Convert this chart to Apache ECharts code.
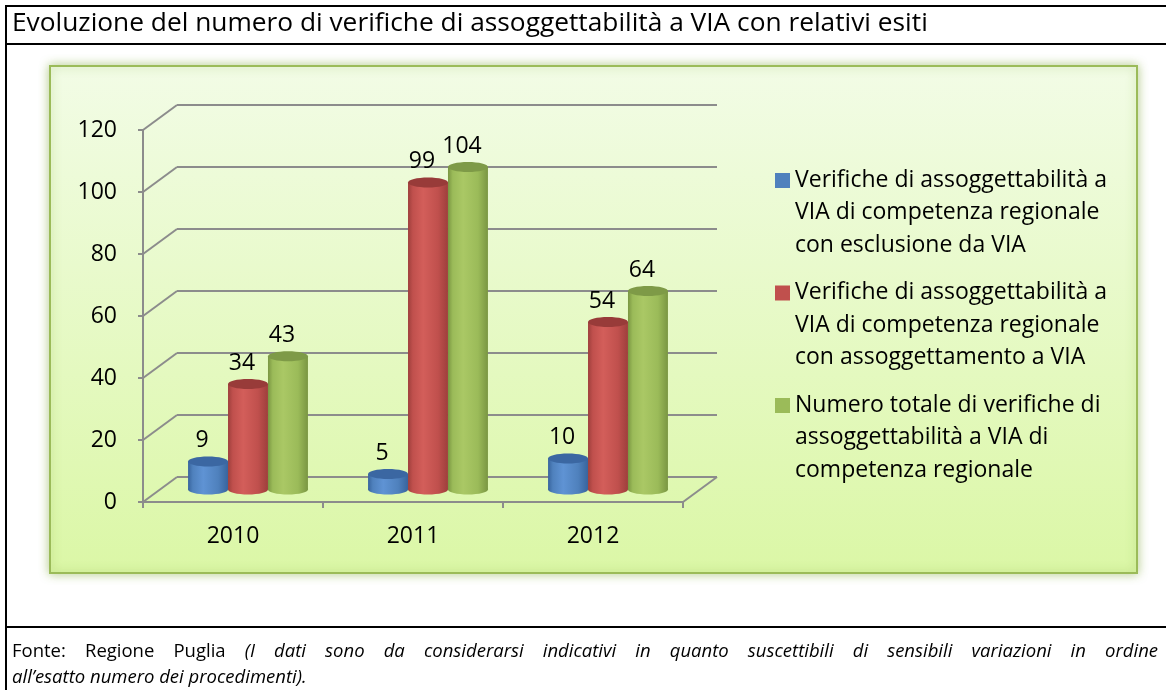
<!DOCTYPE html>
<html>
<head>
<meta charset="utf-8">
<title>Verifiche di assoggettabilità a VIA</title>
<script src="https://cdn.jsdelivr.net/npm/echarts@6/dist/echarts.min.js"></script>
<style>
html, body { margin: 0; padding: 0; background: #fff; }
#main { width: 1166px; height: 690px; }
</style>
</head>
<body>
<div id="main"></div>
<script>
// dati
var anni = ['2010', '2011', '2012'];
var esclusione = [9, 5, 10];
var assoggettamento = [34, 99, 54];
var totale = [43, 104, 64];
var yTicks = [0, 20, 40, 60, 80, 100, 120];

var nomiSerie = [
    'Verifiche di assoggettabilità a VIA di competenza regionale con esclusione da VIA',
    'Verifiche di assoggettabilità a VIA di competenza regionale con assoggettamento a VIA',
    'Numero totale di verifiche di assoggettabilità a VIA di competenza regionale'
];
var nomiLegenda = [
    'Verifiche di assoggettabilità a\nVIA di competenza regionale\ncon esclusione da VIA',
    'Verifiche di assoggettabilità a\nVIA di competenza regionale\ncon assoggettamento a VIA',
    'Numero totale di verifiche di\nassoggettabilità a VIA di\ncompetenza regionale'
];

var titolo = 'Evoluzione del numero di verifiche di assoggettabilità a VIA con relativi esiti';
var fonte = 'Fonte: Regione Puglia';
var notaRiga1 = '(I dati sono da considerarsi indicativi in quanto suscettibili di sensibili variazioni in ordine';
var notaRiga2 = 'all\u2019esatto numero dei procedimenti).';

var colori = [
    {base: '#4f81bd', light: '#5f93d4', dark: '#38649d', top: '#3b67a2'},
    {base: '#c0504d', light: '#d35e5a', dark: '#9e3f3c', top: '#983b39'},
    {base: '#9bbb59', light: '#aac865', dark: '#7a9642', top: '#7e9a47'}
];

var FONT = '"Open Sans", "DejaVu Sans", sans-serif';
var DX = 34, DY = -25; // profondita 3D
var GRIGIO = '#8c8c8c';
var FONTE_SIZE = 18.5;
var NOTA_SIZE = 18.5;

var chart = echarts.init(document.getElementById('main'));

function cilindro(idx) {
    return function (params, api) {
        var cat = api.value(0);
        var val = api.value(1);
        var base = api.coord([cat, 0]);
        var cima = api.coord([cat, val]);
        var banda = api.size([1, 0])[0];
        var w = banda * 0.222;
        var cx = base[0] + DX / 2 - 2 + (idx - 1) * w;
        var y0 = base[1] + DY / 2;
        var y1 = cima[1] + DY / 2;
        var ry = 5;
        var c = colori[idx];
        var grad = new echarts.graphic.LinearGradient(0, 0, 1, 0, [
            {offset: 0, color: c.dark},
            {offset: 0.12, color: c.base},
            {offset: 0.38, color: c.light},
            {offset: 0.75, color: c.base},
            {offset: 1, color: c.dark}
        ]);
        return {
            type: 'group',
            children: [
                {type: 'ellipse', shape: {cx: cx, cy: y0, rx: w / 2, ry: ry}, style: {fill: grad}},
                {type: 'rect', shape: {x: cx - w / 2, y: y1, width: w, height: y0 - y1}, style: {fill: grad}},
                {type: 'ellipse', shape: {cx: cx, cy: y1, rx: w / 2, ry: ry}, style: {fill: c.top}},
                {
                    type: 'text',
                    style: {
                        text: String(val), x: cx - 6, y: y1 - 21,
                        align: 'center', verticalAlign: 'middle',
                        fontSize: 23, fontFamily: FONT, fill: '#000'
                    }
                }
            ]
        };
    };
}

function coppie(valori) {
    return valori.map(function (v, i) { return [i, v]; });
}

var serie = [esclusione, assoggettamento, totale].map(function (valori, i) {
    return {
        name: nomiSerie[i],
        type: 'custom',
        xAxisIndex: 0,
        yAxisIndex: 0,
        z: 5,
        itemStyle: {color: colori[i].base},
        renderItem: cilindro(i),
        data: coppie(valori)
    };
});

// diagonali della parete laterale e del pavimento
serie.unshift({
    type: 'custom',
    xAxisIndex: 0,
    yAxisIndex: 0,
    silent: true,
    z: 1,
    renderItem: function (params, api) {
        var cs = params.coordSys;
        var y = api.coord([0, api.value(1)])[1];
        var linee = [{
            type: 'line',
            shape: {x1: cs.x, y1: y, x2: cs.x + DX, y2: y + DY},
            style: {stroke: GRIGIO, lineWidth: 2}
        }];
        if (api.value(1) === 0) {
            linee.push({
                type: 'line',
                shape: {x1: cs.x + cs.width, y1: y, x2: cs.x + cs.width + DX, y2: y + DY},
                style: {stroke: GRIGIO, lineWidth: 2}
            });
        }
        return {type: 'group', children: linee};
    },
    data: yTicks.map(function (v) { return [0, v]; })
});

// prima riga della fonte giustificata come nel documento originale
var ctx = document.createElement('canvas').getContext('2d');
function larghezza(testo, font) {
    ctx.font = font;
    return ctx.measureText(testo).width;
}
var fontA = FONTE_SIZE + 'px "Open Sans"';
var fontB = 'italic ' + NOTA_SIZE + 'px "Open Sans"';
var parole = fonte.split(' ').map(function (p) { return {t: p, s: 'a'}; })
    .concat(notaRiga1.split(' ').map(function (p) { return {t: p, s: 'b'}; }));
var occupato = 0;
parole.forEach(function (p) { occupato += larghezza(p.t, p.s === 'a' ? fontA : fontB); });
var spazio = (1146 - occupato) / (parole.length - 1);
var riga1 = parole.map(function (p) { return '{' + p.s + '|' + p.t + '}'; }).join('{s| }');

chart.setOption({
    backgroundColor: '#ffffff',
    animation: false,
    title: {
        text: titolo,
        left: 12,
        top: 8,
        padding: 0,
        textStyle: {fontFamily: FONT, fontSize: 26.3, fontWeight: 'normal', color: '#000', lineHeight: 32}
    },
    legend: {
        orient: 'vertical',
        left: 770,
        top: 159,
        itemGap: 15,
        itemWidth: 15,
        itemHeight: 97.5,
        icon: 'path://M0,0M0,9L15,9L15,24L0,24ZM15,97.5',
        data: nomiSerie.map(function (n, i) {
            return {name: n, itemStyle: {color: colori[i].base}};
        }),
        formatter: function (name) {
            return nomiLegenda[nomiSerie.indexOf(name)];
        },
        textStyle: {fontFamily: FONT, fontSize: 23, lineHeight: 32.5, color: '#000'}
    },
    grid: [
        {left: 143, top: 130, width: 540, height: 372},
        {left: 177, top: 105, width: 540, height: 372}
    ],
    xAxis: [
        {
            type: 'category',
            gridIndex: 0,
            data: anni,
            axisLine: {lineStyle: {color: GRIGIO, width: 2}},
            axisTick: {show: true, length: 6, lineStyle: {color: GRIGIO, width: 2}},
            axisLabel: {margin: 23, fontFamily: FONT, fontSize: 23, color: '#000'},
            splitLine: {show: false}
        },
        {type: 'category', gridIndex: 1, data: anni, show: false}
    ],
    yAxis: [
        {
            type: 'value',
            gridIndex: 0,
            min: yTicks[0],
            max: yTicks[yTicks.length - 1],
            interval: 20,
            axisLine: {show: true, lineStyle: {color: GRIGIO, width: 2}},
            axisTick: {show: true, length: 5, lineStyle: {color: GRIGIO, width: 2}},
            axisLabel: {margin: 26, fontFamily: FONT, fontSize: 23, color: '#000'},
            splitLine: {show: false}
        },
        {
            type: 'value',
            gridIndex: 1,
            min: yTicks[0],
            max: yTicks[yTicks.length - 1],
            interval: 20,
            axisLine: {show: false},
            axisTick: {show: false},
            axisLabel: {show: false},
            splitLine: {show: true, lineStyle: {color: GRIGIO, width: 2}}
        }
    ],
    graphic: [
        // pannello verde del grafico
        {
            type: 'rect',
            z: -10,
            shape: {x: 50, y: 66, width: 1087, height: 507},
            style: {
                fill: new echarts.graphic.LinearGradient(0, 0, 0, 1, [
                    {offset: 0, color: '#f2fce6'},
                    {offset: 1, color: '#dbf7a6'}
                ]),
                stroke: '#9bbb59',
                lineWidth: 2,
                shadowBlur: 10,
                shadowColor: 'rgba(130,170,60,0.55)'
            }
        },
        // cornice della tabella
        {type: 'line', z: -5, shape: {x1: 6, y1: 5, x2: 6, y2: 690}, style: {stroke: '#000', lineWidth: 2}},
        {type: 'line', z: -5, shape: {x1: 5, y1: 6, x2: 1166, y2: 6}, style: {stroke: '#000', lineWidth: 2}},
        {type: 'line', z: -5, shape: {x1: 5, y1: 44, x2: 1166, y2: 44}, style: {stroke: '#000', lineWidth: 2}},
        {type: 'line', z: -5, shape: {x1: 5, y1: 627, x2: 1166, y2: 627}, style: {stroke: '#000', lineWidth: 2}},
        // fonte
        {
            type: 'text',
            x: 12,
            y: 652,
            style: {
                text: riga1,
                verticalAlign: 'middle',
                rich: {
                    a: {fontFamily: FONT, fontSize: FONTE_SIZE, fill: '#000'},
                    b: {fontFamily: FONT, fontSize: NOTA_SIZE, fontStyle: 'italic', fill: '#000'},
                    s: {fontFamily: FONT, fontSize: NOTA_SIZE, width: spazio}
                }
            }
        },
        {
            type: 'text',
            x: 12,
            y: 678,
            style: {
                text: notaRiga2,
                verticalAlign: 'middle',
                fontFamily: FONT, fontSize: NOTA_SIZE, fontStyle: 'italic', fill: '#000'
            }
        }
    ],
    series: serie
});
</script>
</body>
</html>
